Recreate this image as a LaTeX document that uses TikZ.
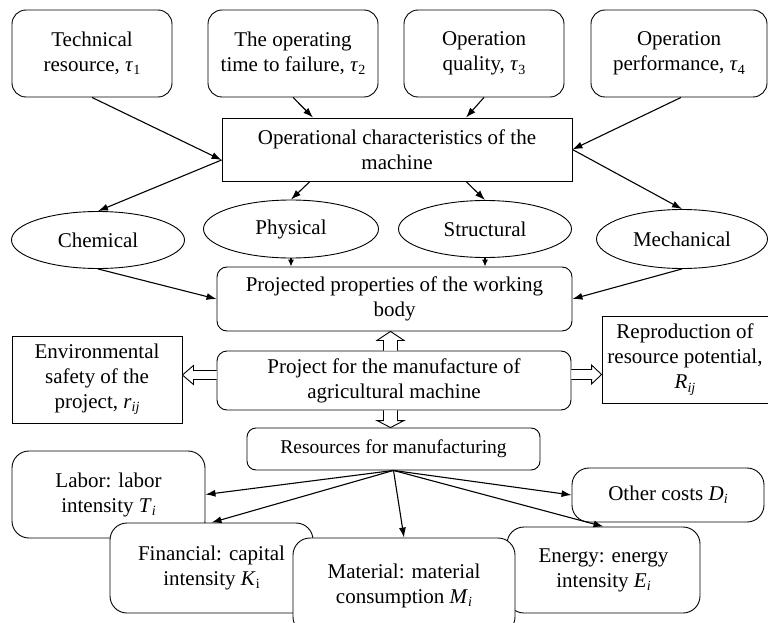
\documentclass[tikz,border=0pt]{standalone}
\usepackage{fontspec}
\setmainfont{Liberation Serif}
\usetikzlibrary{arrows.meta,shapes.geometric,calc}
\newcommand{\lsb}[1]{\raisebox{-0.35ex}{\fontsize{14}{14}\selectfont #1}}
\newcommand{\tu}{\textit{τ}}
\begin{document}
\begin{tikzpicture}[x=1pt,y=-1pt,
  every node/.style={font=\fontsize{21}{25}\selectfont, align=center, inner sep=0pt},
  rbox/.style={draw, rounded corners=14pt, fill=white, line width=0.9pt},
  bbox/.style={draw, rounded corners=17pt, fill=white, line width=0.9pt},
  sbox/.style={draw, fill=white, line width=0.9pt},
  ell/.style={draw, ellipse, fill=white, line width=0.9pt},
  arr/.style={-{Latex[length=10pt,width=7pt]}, line width=1.1pt},
  sarr/.style={-{Latex[length=7pt,width=6pt]}, line width=1.1pt},
  hollow/.style={draw, fill=white, line width=0.9pt, line join=miter}
]
\useasboundingbox (0,0) rectangle (768,623);
\clip (0,0) rectangle (768,623);

% top row
\node[rbox, minimum width=160pt, minimum height=87pt] (tech) at (92,53.5) {Technical\\resource, \tu\lsb{1}};
\node[rbox, minimum width=170pt, minimum height=87pt] (fail) at (293,53.5) {The operating\\time to failure, \tu\lsb{2}};
\node[rbox, minimum width=160pt, minimum height=87pt] (qual) at (484,53.5) {Operation\\quality, \tu\lsb{3}};
\node[rbox, minimum width=176pt, minimum height=87pt] (perf) at (679,53.5) {Operation\\performance, \tu\lsb{4}};

% operational characteristics
\node[sbox, minimum width=350pt, minimum height=63pt] (opchar) at (397,149.5) {Operational characteristics of the\\machine};

% ellipses
\node[ell, minimum width=173pt, minimum height=57pt] (chem) at (98,240) {Chemical};
\node[ell, minimum width=175pt, minimum height=58pt] (phys) at (291,229) {Physical};
\node[ell, minimum width=173pt, minimum height=57pt] (struc) at (485,229) {Structural};
\node[ell, minimum width=171pt, minimum height=59pt] (mech) at (682,239) {Mechanical};

% projected properties
\node[draw, rounded corners=10pt, fill=white, line width=0.9pt, minimum width=355pt, minimum height=64pt] (proj) at (394.5,299) {Projected properties of the working\\body};

% project
\node[draw, rounded corners=10pt, fill=white, line width=0.9pt, minimum width=354pt, minimum height=59pt] (project) at (394,380.5) {Project for the manufacture of\\agricultural machine};

\node[sbox, minimum width=170pt, minimum height=87pt] (env) at (97,379.5) {Environmental\\safety of the\\project, \textit{r}\lsb{\textit{ij}}};
\node[sbox, minimum width=166pt, minimum height=87pt] (repr) at (685,359.5) {Reproduction of\\resource potential,\\\textit{R}\lsb{\textit{ij}}};

% resources
\node[draw, rounded corners=9pt, fill=white, line width=0.9pt, minimum width=293pt, minimum height=42pt, font=\fontsize{19.5}{23}\selectfont] (res) at (393.5,449) {Resources for manufacturing};

% bottom boxes
\node[bbox, minimum width=193pt, minimum height=87pt] (labor) at (108.5,494.5) {Labor: labor\\intensity \textit{T}\lsb{\textit{i}}};
\node[bbox, minimum width=203pt, minimum height=90pt] (fin) at (211.5,568) {Financial: capital\\intensity \textit{K}\lsb{i}};
\node[bbox, minimum width=193pt, minimum height=86pt] (energy) at (603.5,570) {Energy: energy\\intensity \textit{E}\lsb{\textit{i}}};
\node[bbox, minimum width=222pt, minimum height=96pt] (mat) at (404,586) {Material: material\\consumption \textit{M}\lsb{\textit{i}}};
\node[bbox, minimum width=192pt, minimum height=54pt] (other) at (668,495) {Other costs \textit{D}\lsb{\textit{i}}};

% arrows top
\draw[arr] (tech.south) -- ([yshift=-10.5pt]opchar.west);
\draw[arr] (fail.south) -- ([xshift=-84pt]opchar.north);
\draw[arr] (qual.south) -- ([xshift=69pt]opchar.north);
\draw[arr] ([xshift=2pt]perf.south) -- (opchar.east);

\draw[arr] ([yshift=-10.5pt]opchar.west) -- (chem.north);
\draw[arr] ([xshift=-87pt]opchar.south) -- (phys.north);
\draw[arr] ([xshift=69pt]opchar.south) -- (struc.north);
\draw[arr] (opchar.east) -- (mech.north);

\draw[arr] (chem.south) -- (proj.west);
\draw[sarr] (phys.south) -- (phys.south |- proj.north);
\draw[sarr] (struc.south) -- (struc.south |- proj.north);
\draw[arr] (mech.south) -- (proj.east);

% hollow arrows
\coordinate (ua) at ([xshift=-3.5pt]project.north);
\coordinate (ub) at (ua |- proj.south);
\draw[hollow] ($(ua)+(-7,0)$) -- ($(ub)+(-7,9)$) -- ($(ub)+(-13.5,9)$) -- (ub) -- ($(ub)+(13.5,9)$) -- ($(ub)+(7,9)$) -- ($(ua)+(7,0)$);

\coordinate (da) at ([xshift=-3.5pt]project.south);
\coordinate (db) at (da |- res.north);
\draw[hollow] ($(da)+(-7,0)$) -- ($(db)+(-7,-7)$) -- ($(db)+(-13.5,-7)$) -- (db) -- ($(db)+(13.5,-7)$) -- ($(db)+(7,-7)$) -- ($(da)+(7,0)$);

\coordinate (la) at ([yshift=5.5pt]project.west);
\coordinate (lb) at (la -| env.east);
\draw[hollow] ($(la)+(0,-4.5)$) -- ($(lb)+(11,-4.5)$) -- ($(lb)+(11,-9.5)$) -- (lb) -- ($(lb)+(11,9.5)$) -- ($(lb)+(11,4.5)$) -- ($(la)+(0,4.5)$);

\coordinate (ra) at ([yshift=6pt]project.east);
\coordinate (rb) at (ra -| repr.west);
\draw[hollow] ($(ra)+(0,-5)$) -- ($(rb)+(-10,-5)$) -- ($(rb)+(-10,-9.5)$) -- (rb) -- ($(rb)+(-10,9.5)$) -- ($(rb)+(-10,5)$) -- ($(ra)+(0,5)$);

% resource arrows
\draw[arr] (res.south) -- (labor.east);
\draw[arr] (res.south) -- (fin.north);
\draw[arr] (res.south) -- (mat.north);
\draw[arr] (res.south) -- (other.west);
\draw[arr] (res.south) -- (energy.north);
\end{tikzpicture}
\end{document}
